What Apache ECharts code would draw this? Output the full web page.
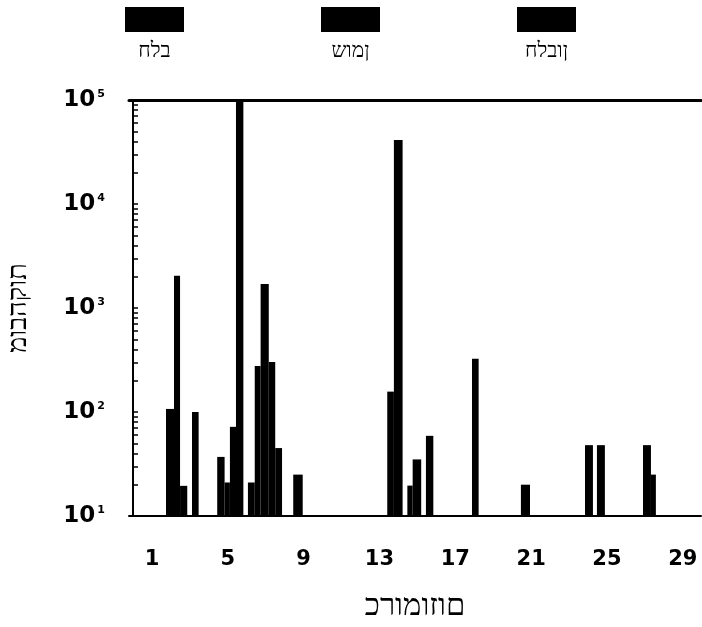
<!DOCTYPE html>
<html>
<head>
<meta charset="utf-8">
<script src="https://cdn.jsdelivr.net/npm/echarts@6/dist/echarts.min.js"></script>
<style>
  html, body { margin: 0; padding: 0; background: #fff; }
  #chart { width: 702px; height: 627px; }
</style>
</head>
<body>
<div id="chart"></div>
<script>
// מיקום על הכרומוזום (התחלה / סוף) ומובהקות
const barFrom = [1.74, 2.16, 2.48, 3.11, 4.44, 4.83, 5.11, 5.43, 6.06, 6.42, 6.73, 7.16, 7.50, 8.45,
  13.41, 13.76, 14.47, 14.75, 15.45, 17.88, 20.46, 23.84, 24.47, 26.90, 27.32]
const barTo = [2.16, 2.48, 2.86, 3.46, 4.83, 5.11, 5.43, 5.82, 6.42, 6.73, 7.16, 7.50, 7.86, 8.95,
  13.76, 14.22, 14.75, 15.20, 15.84, 18.23, 20.94, 24.26, 24.89, 27.32, 27.58]
const barValue = [107, 2040, 19.5, 100, 37, 21, 72, 100000, 21, 277, 1700, 302, 45, 25,
  157, 41200, 19.6, 35, 59, 325, 20, 48, 48, 48, 25]

const xTicks = [1, 5, 9, 13, 17, 21, 25, 29]
const yDecades = [10, 100, 1000, 10000, 100000]
const yExponents = ['1', '2', '3', '4', '5']
const traits = ['חלב', 'שומן', 'חלבון']

const yMinor = []
yDecades.slice(0, -1).forEach(d => {
  for (let k = 1; k < 10; k++) yMinor.push(d * k)
})
yMinor.push(100000)

// in the source the hebrew is set left to right (visual order)
const ltr = s => '\u202D' + s + '\u202C'

const hebFont = '"Liberation Serif", "DejaVu Serif", serif'
const numFont = '"DejaVu Sans", sans-serif'

const chart = echarts.init(document.getElementById('chart'), null, { renderer: 'canvas' })

const legendGraphics = []
traits.forEach((name, i) => {
  const cx = 154.5 + i * 196
  legendGraphics.push({
    type: 'rect', left: cx - 29.5, top: 7,
    shape: { width: 59, height: 25 },
    style: { fill: '#000' }
  })
  legendGraphics.push({
    type: 'text', x: cx, y: 51,
    style: { text: ltr(name), font: '21px ' + hebFont, fill: '#000', align: 'center', verticalAlign: 'middle' }
  })
})

chart.setOption({
  animation: false,
  backgroundColor: '#fff',
  grid: { left: 129, right: 1, top: 100, bottom: 111, outerBoundsMode: 'none', containLabel: false },
  graphic: legendGraphics,
  xAxis: [{
    type: 'value',
    min: -0.213,
    max: 29.96,
    position: 'bottom',
    name: ltr('כרומוזום'),
    nameLocation: 'middle',
    nameGap: 75,
    nameTextStyle: { fontFamily: hebFont, fontSize: 31, color: '#000' },
    axisLine: { show: true, lineStyle: { color: '#000', width: 2 } },
    axisTick: { show: false },
    splitLine: { show: false },
    axisLabel: {
      customValues: xTicks,
      margin: 33,
      color: '#000',
      fontFamily: numFont,
      fontWeight: 'bold',
      fontSize: 21
    }
  }, {
    type: 'value',
    min: -0.213,
    max: 29.96,
    position: 'top',
    axisLine: { show: true, lineStyle: { color: '#000', width: 3 } },
    axisTick: { show: false },
    axisLabel: { show: false },
    splitLine: { show: false }
  }],
  yAxis: {
    type: 'log',
    logBase: 10,
    min: 10,
    max: 100000,
    name: ltr('מובהקות'),
    nameLocation: 'middle',
    nameRotate: 90,
    nameGap: 97,
    nameTextStyle: { fontFamily: hebFont, fontSize: 27, color: '#000' },
    axisLine: { show: true, lineStyle: { color: '#000', width: 2 } },
    axisTick: { show: true, inside: true, length: 5, customValues: yMinor, lineStyle: { color: '#000', width: 1.5 } },
    minorTick: { show: false },
    splitLine: { show: false },
    axisLabel: {
      customValues: yDecades,
      margin: 24,
      formatter: v => {
        const i = yDecades.findIndex(d => Math.abs(d - v) < d * 0.01)
        return '{b|10}{s|' + yExponents[i] + '}'
      },
      rich: {
        b: { fontFamily: numFont, fontWeight: 'bold', fontSize: 23, color: '#000' },
        s: { fontFamily: numFont, fontWeight: 'bold', fontSize: 11, color: '#000', verticalAlign: 'top', padding: [0, 0, 12, 2] }
      }
    }
  },
  series: [{
    type: 'custom',
    name: 'מובהקות',
    clip: true,
    encode: { x: [0, 1], y: 2 },
    data: barFrom.map((f, i) => [f, barTo[i], barValue[i]]),
    renderItem: (params, api) => {
      const top = api.coord([api.value(0), api.value(2)])
      const base = api.coord([api.value(1), 10])
      return {
        type: 'rect',
        shape: { x: top[0], y: top[1], width: base[0] - top[0], height: base[1] - top[1] },
        style: { fill: '#000' }
      }
    }
  }]
})
</script>
</body>
</html>
